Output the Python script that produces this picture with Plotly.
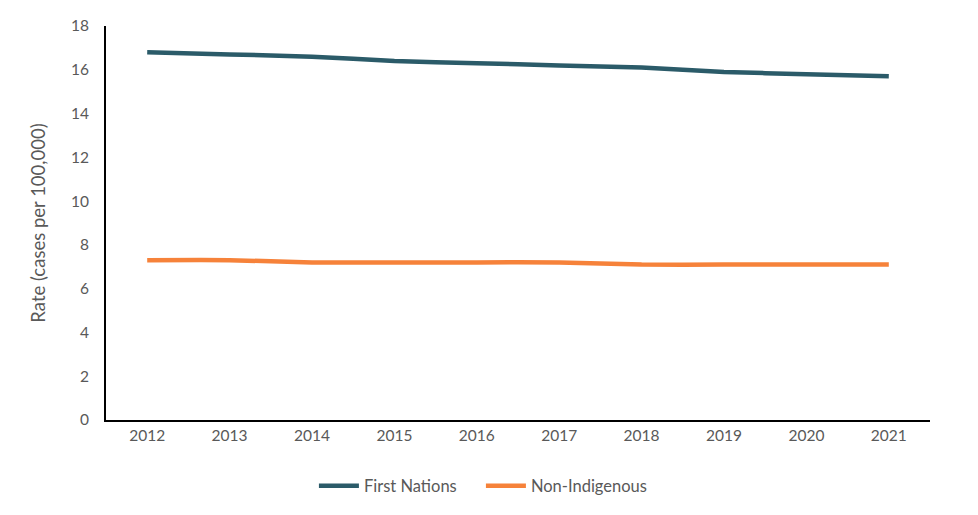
import plotly.graph_objects as go

years = ["2012", "2013", "2014", "2015", "2016", "2017", "2018", "2019", "2020", "2021"]
first_nations = [16.8, 16.7, 16.6, 16.4, 16.3, 16.2, 16.1, 15.9, 15.8, 15.7]
non_indigenous = [7.3, 7.3, 7.2, 7.2, 7.2, 7.2, 7.1, 7.1, 7.1, 7.1]
y_ticks = [0, 2, 4, 6, 8, 10, 12, 14, 16, 18]

FONT = "Lato, 'Open Sans', sans-serif"
GREY = "#595959"

fig = go.Figure()
fig.add_trace(go.Scatter(x=years, y=first_nations, mode="lines", name="First Nations",
                         line=dict(color="#2B5B69", width=4.5, shape="spline", smoothing=0.6)))
fig.add_trace(go.Scatter(x=years, y=non_indigenous, mode="lines", name="Non-Indigenous",
                         line=dict(color="#F6823A", width=4.5, shape="spline", smoothing=0.6)))

fig.update_layout(
    width=978, height=515,
    margin=dict(l=106, r=48, t=26, b=95),
    paper_bgcolor="white", plot_bgcolor="white",
    font=dict(family=FONT, size=15.5, color=GREY),
    showlegend=True,
    legend=dict(orientation="h", x=0.455, xanchor="center", y=-0.1675, yanchor="middle",
                font=dict(family=FONT, size=16.5, color=GREY), itemwidth=40,
                entrywidth=112, entrywidthmode="pixels"),
    xaxis=dict(type="category", range=[-0.5, 9.5], showgrid=False, showline=True,
               linecolor="black", linewidth=2, ticks="", tickfont=dict(size=15.5, color=GREY),
               zeroline=False),
    yaxis=dict(range=[0, 18], tickvals=y_ticks, showgrid=False, showline=True,
               linecolor="black", linewidth=2, ticks="", zeroline=False,
               tickfont=dict(size=15.5, color=GREY), ticklabelstandoff=12,
               title=dict(text="Rate (cases per 100,000)", font=dict(size=18.5, color=GREY), standoff=20)),
)

fig.write_html("out.html")
